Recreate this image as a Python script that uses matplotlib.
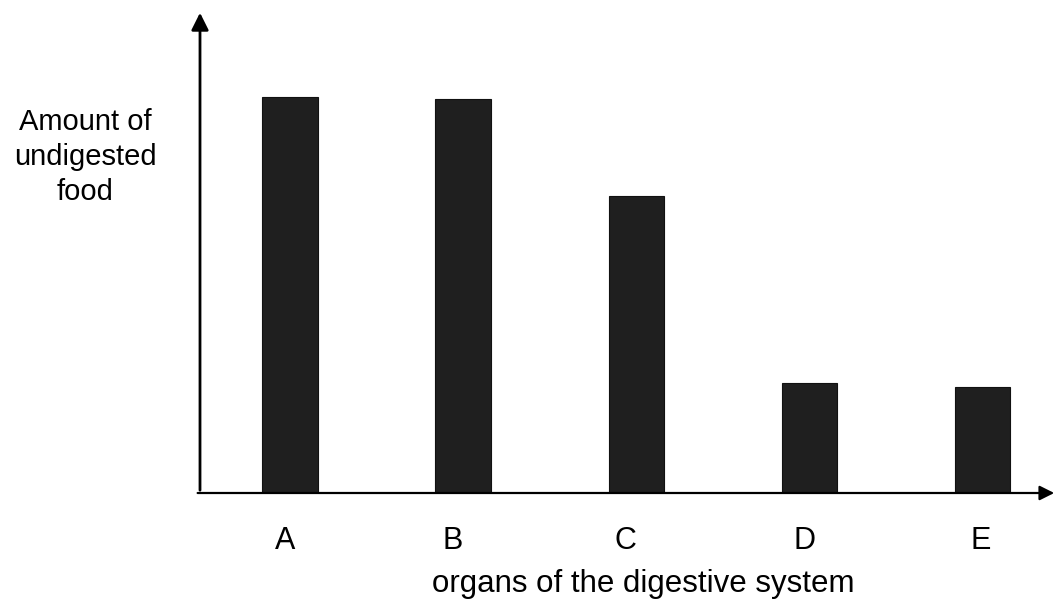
import matplotlib
matplotlib.use("Agg")
import matplotlib.pyplot as plt

categories = ["A", "B", "C", "D", "E"]
values = [9.0, 8.95, 6.75, 2.5, 2.4]
label_offsets = [-0.03, -0.06, -0.065, -0.03, -0.01]

plt.rcParams['font.family'] = ['Liberation Sans', 'DejaVu Sans']

fig = plt.figure(figsize=(10.57, 6.09), dpi=100)
ax = fig.add_axes([200/1057, (609-493)/609, 1 - 200/1057, (493-10)/609])

x = list(range(len(categories)))
ax.bar(x, values, width=0.32, color='#1f1f1f', edgecolor='#111111', linewidth=0.8)

ax.set_xlim(-0.52, 4.43)
ax.set_ylim(0, 10.98)
for s in ax.spines.values():
    s.set_visible(False)
ax.set_yticks([])
ax.set_xticks([p + o for p, o in zip(x, label_offsets)])
ax.set_xticklabels(categories, fontsize=22)
ax.tick_params(axis='x', length=0, pad=24)

# axis arrows
ax.annotate('', xy=(0, 1.0), xytext=(0, 0), xycoords='axes fraction',
            arrowprops=dict(arrowstyle='-|>', color='black', lw=2, mutation_scale=26))
ax.annotate('', xy=(1.0, 0), xytext=(-0.006, 0), xycoords='axes fraction',
            arrowprops=dict(arrowstyle='-|>', color='black', lw=1.6, mutation_scale=22))

fig.text(85/1057, 1 - 157/609, "Amount of\nundigested\nfood", ha='center', va='center',
         fontsize=21, linespacing=1.3)
fig.text(643/1057, 1 - 584/609, "organs of the digestive system", ha='center', va='center',
         fontsize=22.5)

fig.savefig("out.png", dpi=100)
